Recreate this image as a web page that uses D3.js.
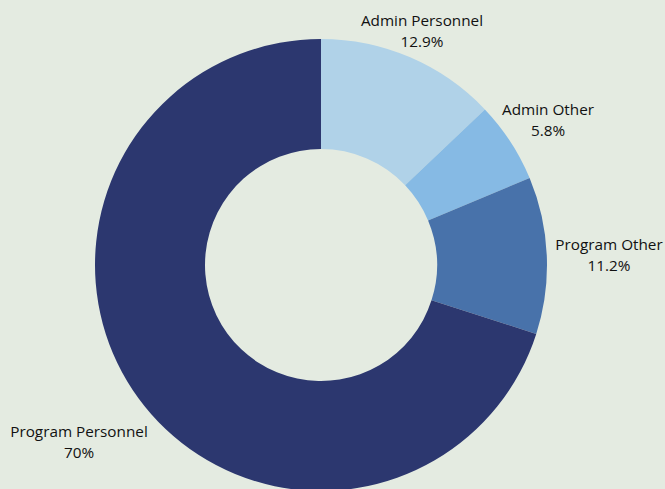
<!DOCTYPE html>
<html><head><meta charset="utf-8">
<script src="https://cdn.jsdelivr.net/npm/d3@7"></script>
<style>html,body{margin:0;padding:0;background:#e4ebe1;}svg{display:block;}</style>
</head><body>
<script>
const categories = ["Admin Personnel", "Admin Other", "Program Other", "Program Personnel"];
const values = [12.9, 5.8, 11.2, 70];
const valueLabels = ["12.9%", "5.8%", "11.2%", "70%"];
const colors = ["#b0d2e8", "#86bae4", "#4872aa", "#2c376f"];

const W = 665, H = 489;
const svg = d3.select("body").append("svg").attr("width", W).attr("height", H);
svg.append("rect").attr("width", W).attr("height", H).attr("fill", "#e4ebe1");

const cx = 321, cy = 265, R = 226, r = 116;
const pie = d3.pie().sort(null).value(d => d);
const arcs = pie(values);
const arc = d3.arc().innerRadius(r).outerRadius(R);
const g = svg.append("g").attr("transform", `translate(${cx},${cy})`);
g.selectAll("path").data(arcs).join("path")
  .attr("d", arc).attr("fill", (d, i) => colors[i]);

const labelPos = [[422, 26], [548, 115], [609, 250], [79, 437]];
const lg = svg.append("g").attr("font-family", "'Open Sans', sans-serif").attr("font-size", 15.3).attr("fill", "#111").attr("text-anchor", "middle");
categories.forEach((c, i) => {
  const t = lg.append("text").attr("x", labelPos[i][0]).attr("y", labelPos[i][1]);
  t.append("tspan").attr("x", labelPos[i][0]).text(c);
  t.append("tspan").attr("x", labelPos[i][0]).attr("dy", 21).text(valueLabels[i]);
});
</script>
</body></html>
